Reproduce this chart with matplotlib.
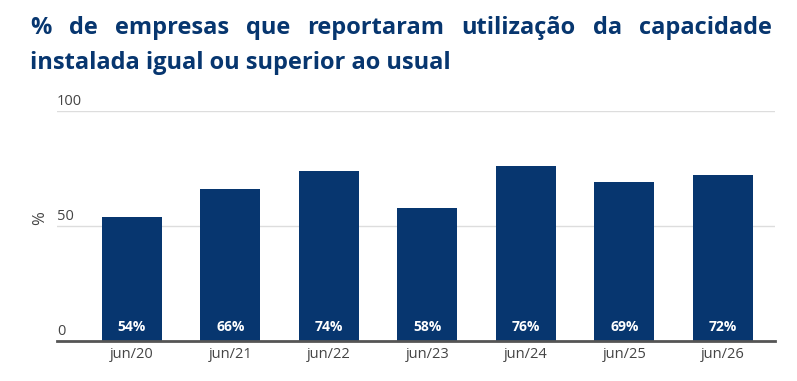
import matplotlib
matplotlib.use('Agg')
import matplotlib.pyplot as plt
import numpy as np

periodos = ['jun/20', 'jun/21', 'jun/22', 'jun/23', 'jun/24', 'jun/25', 'jun/26']
valores = [54, 66, 74, 58, 76, 69, 72]
y_ticks = [0, 50, 100]

titulo_l1 = '% de empresas que reportaram utilização da capacidade'
titulo_l2 = 'instalada igual ou superior ao usual'

azul = '#07366f'
fonte = 'Open Sans'

W, H = 797, 381
fig = plt.figure(figsize=(W / 100, H / 100), dpi=100)
ax = fig.add_axes([57 / W, 1 - 341 / H, (775 - 57) / W, (341 - 111) / H])

x = np.arange(len(periodos))
ax.bar(x, valores, width=0.61, color=azul, zorder=3)
for xi, v in zip(x, valores):
    ax.text(xi, 3, f'{v}%', ha='center', va='bottom', color='white',
            fontsize=10, fontweight='bold', family=fonte, zorder=4)

ax.set_xlim(-0.76, 6.53)
ax.set_ylim(0, 100)
ax.set_xticks(x)
ax.set_xticklabels(periodos, family=fonte, fontsize=10.5, color='#444444')
ax.tick_params(axis='x', length=0, pad=4)
ax.set_yticks([])
for t in y_ticks:
    if t > 0:
        ax.axhline(t, color='#dddddd', lw=1, zorder=1)
    ax.text(0, t + 1, str(t), transform=ax.get_yaxis_transform(),
            ha='left', va='bottom', fontsize=10.5, color='#444444', family=fonte)

for s in ['top', 'right', 'left']:
    ax.spines[s].set_visible(False)
ax.spines['bottom'].set_color('#555555')
ax.spines['bottom'].set_linewidth(2)
ax.spines['bottom'].set_zorder(5)

fig.text(40 / W, 1 - 218 / H, '%', rotation=90, ha='center', va='center',
         fontsize=12, color='#444444', family=fonte)

# titulo: primeira linha justificada
renderer = fig.canvas.get_renderer()
palavras = titulo_l1.split(' ')
x0, x1 = 30, 772
objs = []
larguras = []
for p in palavras:
    t = fig.text(0, 1 - 28 / H, p, fontsize=17, fontweight='bold', color=azul,
                 family=fonte, va='center', ha='left')
    objs.append(t)
    larguras.append(t.get_window_extent(renderer).width)
espaco = (x1 - x0 - sum(larguras)) / (len(palavras) - 1)
pos = x0
for t, w in zip(objs, larguras):
    t.set_x(pos / W)
    pos += w + espaco

fig.text(x0 / W, 1 - 63 / H, titulo_l2, fontsize=17, fontweight='bold',
         color=azul, family=fonte, va='center', ha='left')

fig.savefig('out.png', dpi=100)
